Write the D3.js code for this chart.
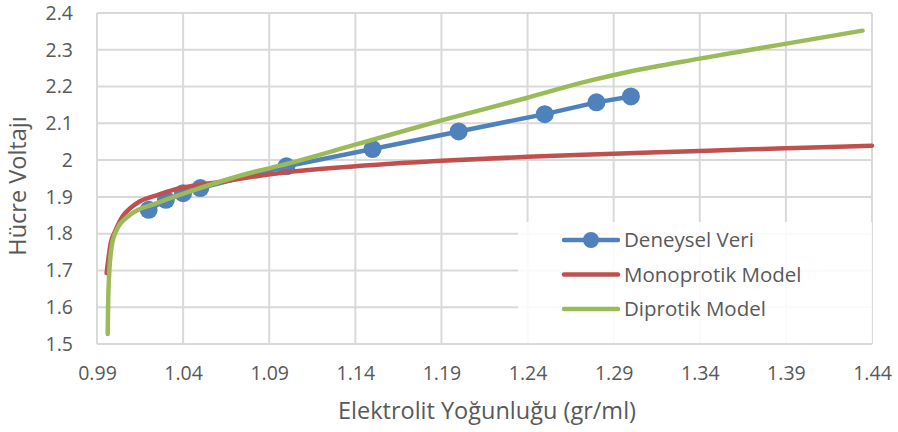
<!DOCTYPE html>
<html lang="tr">
<head>
<meta charset="UTF-8">
<title>Hücre Voltajı</title>
<script src="https://cdn.jsdelivr.net/npm/d3@7"></script>
<style>
  body { margin: 0; background: #fff; }
  text { font-family: "Open Sans", sans-serif; fill: #595959; }
</style>
</head>
<body>
<div id="chart"></div>
<script>
// data
const xTicks = [0.99, 1.04, 1.09, 1.14, 1.19, 1.24, 1.29, 1.34, 1.39, 1.44];
const yTicks = [1.5, 1.6, 1.7, 1.8, 1.9, 2.0, 2.1, 2.2, 2.3, 2.4];

const deneyselX = [1.02, 1.03, 1.04, 1.05, 1.10, 1.15, 1.20, 1.25, 1.28, 1.30];
const deneyselY = [1.865, 1.892, 1.910, 1.924, 1.983, 2.030, 2.078, 2.125, 2.157, 2.173];

const monoX = [0.9956, 0.998, 1.0005, 1.005, 1.009, 1.015, 1.025, 1.0343, 1.0633, 1.0963, 1.14, 1.19, 1.24, 1.29, 1.34, 1.39, 1.44];
const monoY = [1.693, 1.775, 1.806, 1.848, 1.868, 1.888, 1.905, 1.919, 1.942, 1.965, 1.983, 1.998, 2.009, 2.017, 2.025, 2.032, 2.039];

const diproX = [0.9962, 0.9965, 0.997, 0.9985, 1.0014, 1.0092, 1.0247, 1.044, 1.0788, 1.0963, 1.14, 1.19, 1.2395, 1.2744, 1.2995, 1.34, 1.3895, 1.4345];
const diproY = [1.527, 1.62, 1.683, 1.765, 1.810, 1.851, 1.883, 1.915, 1.965, 1.985, 2.042, 2.108, 2.169, 2.214, 2.241, 2.276, 2.316, 2.352];

const legendNames = ["Deneysel Veri", "Monoprotik Model", "Diprotik Model"];
const colors = ["#4F81BD", "#C0504D", "#9BBB59"];

const width = 898, height = 432;
const margin = { left: 97, right: 26, top: 13, bottom: 88 };

const svg = d3.select("#chart").append("svg")
    .attr("width", width)
    .attr("height", height);

const x = d3.scaleLinear()
    .domain([0.99, 1.44])
    .range([margin.left, width - margin.right]);
const y = d3.scaleLinear()
    .domain([1.5, 2.4])
    .range([height - margin.bottom, margin.top]);

// grid
const grid = svg.append("g").attr("stroke", "#D9D9D9").attr("stroke-width", 2);
grid.selectAll(".gx").data(xTicks).enter().append("line")
    .attr("x1", d => x(d)).attr("x2", d => x(d))
    .attr("y1", y(1.5)).attr("y2", y(2.4));
grid.selectAll(".gy").data(yTicks).enter().append("line")
    .attr("x1", x(0.99)).attr("x2", x(1.44))
    .attr("y1", d => y(d)).attr("y2", d => y(d));

// axes (labels only, Excel style)
const xAxis = svg.append("g")
    .attr("transform", `translate(0,${y(1.5)})`)
    .call(d3.axisBottom(x).tickValues(xTicks).tickFormat(d3.format(".2f")).tickSize(0).tickPadding(22));
const yAxis = svg.append("g")
    .attr("transform", `translate(${x(0.99)},0)`)
    .call(d3.axisLeft(y).tickValues(yTicks).tickFormat(d => d3.format("")(+d.toFixed(1))).tickSize(0).tickPadding(24));
[xAxis, yAxis].forEach(a => {
    a.select(".domain").remove();
    a.selectAll("text").attr("font-size", 19.5).attr("fill", "#595959")
        .attr("font-family", "'Open Sans', sans-serif");
});

// series
const line = d3.line().x(d => x(d[0])).y(d => y(d[1]));
const smooth = d3.line().x(d => x(d[0])).y(d => y(d[1])).curve(d3.curveMonotoneX);

const deneysel = d3.zip(deneyselX, deneyselY);
const mono = d3.zip(monoX, monoY);
const dipro = d3.zip(diproX, diproY);

const plot = svg.append("g").attr("fill", "none").attr("stroke-linecap", "round").attr("stroke-linejoin", "round");
plot.append("path").datum(deneysel).attr("d", line)
    .attr("stroke", colors[0]).attr("stroke-width", 4.5);
plot.selectAll(".dot").data(deneysel).enter().append("circle")
    .attr("cx", d => x(d[0])).attr("cy", d => y(d[1])).attr("r", 9)
    .attr("fill", colors[0]).attr("stroke", "none");
plot.append("path").datum(mono).attr("d", smooth)
    .attr("stroke", colors[1]).attr("stroke-width", 4.5);
plot.append("path").datum(dipro).attr("d", smooth)
    .attr("stroke", colors[2]).attr("stroke-width", 4.5);

// legend
const legend = svg.append("g");
legend.append("rect")
    .attr("x", 518).attr("y", 222).attr("width", x(1.44) - 518).attr("height", y(1.5) - 222 - 1)
    .attr("fill", "#fff").attr("fill-opacity", 0.85);
legendNames.forEach((name, i) => {
    const ly = 240 + i * 34.5;
    legend.append("line")
        .attr("x1", 564).attr("x2", 618).attr("y1", ly).attr("y2", ly)
        .attr("stroke", colors[i]).attr("stroke-width", 4.5).attr("stroke-linecap", "round");
    if (i === 0) {
        legend.append("circle").attr("cx", 591).attr("cy", ly).attr("r", 8).attr("fill", colors[0]);
    }
    legend.append("text")
        .attr("x", 624).attr("y", ly).attr("dy", "0.35em")
        .attr("font-size", 20.5)
        .text(name);
});

// axis titles
svg.append("text")
    .attr("x", 487).attr("y", 411).attr("dy", "0.35em")
    .attr("text-anchor", "middle").attr("font-size", 23.5)
    .text("Elektrolit Yoğunluğu (gr/ml)");
svg.append("text")
    .attr("transform", "translate(18,186) rotate(-90)")
    .attr("dy", "0.35em")
    .attr("text-anchor", "middle").attr("font-size", 23.5)
    .text("Hücre Voltajı");
</script>
</body>
</html>
